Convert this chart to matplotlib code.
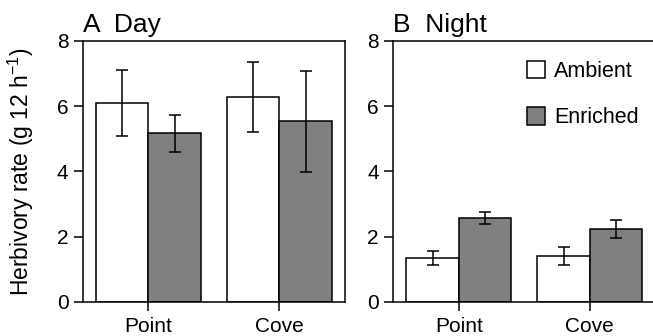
import numpy as np
import matplotlib
matplotlib.use("Agg")
import matplotlib.pyplot as plt
from matplotlib.patches import Patch

plt.rcParams['font.family'] = ['Liberation Sans', 'DejaVu Sans']
plt.rcParams['mathtext.default'] = 'regular'

# data
sites = ['Point', 'Cove']
treatments = ['Ambient', 'Enriched']
colors = ['white', '#808080']

day_ambient = [6.10, 6.28]
day_ambient_err = [1.02, 1.08]
day_enriched = [5.17, 5.54]
day_enriched_err = [0.56, 1.55]

night_ambient = [1.35, 1.41]
night_ambient_err = [0.22, 0.28]
night_enriched = [2.57, 2.24]
night_enriched_err = [0.18, 0.28]

fig = plt.figure(figsize=(6.53, 3.36), dpi=100)
ax1 = fig.add_axes([0.1271, 0.1012, 0.4012, 0.7768])
ax2 = fig.add_axes([0.6023, 0.1012, 0.4012, 0.7768])

x = np.arange(len(sites))
w = 0.4

def draw(ax, amb, amb_err, enr, enr_err, title):
    for i, (vals, errs) in enumerate([(amb, amb_err), (enr, enr_err)]):
        xpos = x - w / 2 + i * w
        ax.bar(xpos, vals, width=w, color=colors[i], edgecolor='black',
               linewidth=1.1, zorder=2)
        ax.errorbar(xpos, vals, yerr=errs, fmt='none', ecolor='black',
                    elinewidth=1.1, capsize=4, capthick=1.1, zorder=3)
    ax.set_xlim(-0.5, 1.5)
    ax.set_ylim(0, 8)
    ax.set_yticks([0, 2, 4, 6, 8])
    ax.set_xticks(x)
    ax.set_xticklabels(sites)
    ax.tick_params(direction='out', length=6.5, width=1.1, labelsize=15, pad=4)
    for s in ax.spines.values():
        s.set_linewidth(1.1)
    ax.text(0.0, 1.035, title, transform=ax.transAxes, fontsize=19,
            ha='left', va='baseline')

draw(ax1, day_ambient, day_ambient_err, day_enriched, day_enriched_err, 'A  Day')
draw(ax2, night_ambient, night_ambient_err, night_enriched, night_enriched_err, 'B  Night')

ax1.set_ylabel('Herbivory rate (g 12 h$^{-1}$)', fontsize=16.5)
ax1.yaxis.set_label_coords(-0.18, 0.5)

handles = [Patch(facecolor=c, edgecolor='black', linewidth=1.1) for c in colors]
ax2.legend(handles, treatments, loc='upper left', bbox_to_anchor=(0.51, 0.925),
           frameon=False, fontsize=15.5, borderpad=0, borderaxespad=0,
           handlelength=0.85, handleheight=0.85, handletextpad=0.4,
           labelspacing=1.2)

fig.savefig('out.png', dpi=100)
